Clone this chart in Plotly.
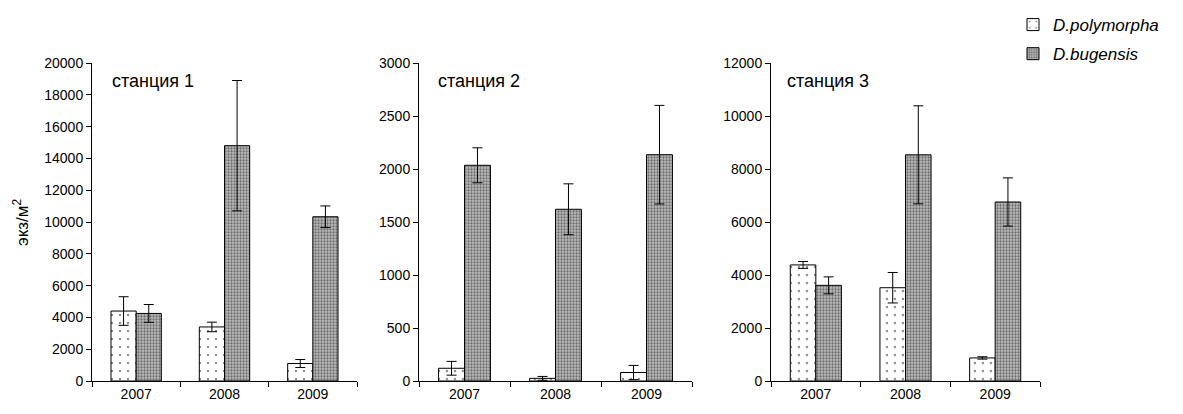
import plotly.graph_objects as go

years = ["2007", "2008", "2009"]
stations = ["станция 1", "станция 2", "станция 3"]
series_names = ["D.polymorpha", "D.bugensis"]

# values per station
poly_vals = [[4400, 3400, 1100], [120, 25, 80], [4380, 3520, 870]]
poly_err = [[900, 300, 250], [65, 18, 67], [130, 575, 45]]
bug_vals = [[4250, 14800, 10330], [2035, 1620, 2135], [3610, 8535, 6755]]
bug_err = [[560, 4100, 680], [165, 240, 465], [320, 1850, 910]]

y_max = [20000, 3000, 12000]
y_dtick = [2000, 500, 2000]

W, H = 1183, 414
domains_px = [(92, 357), (419, 692), (771, 1040)]
FONT = "Liberation Sans, Arial, sans-serif"

fig = go.Figure()
for i in range(3):
    xa = "x" if i == 0 else f"x{i+1}"
    ya = "y" if i == 0 else f"y{i+1}"
    fig.add_trace(go.Bar(
        x=years, y=poly_vals[i], name=series_names[0],
        xaxis=xa, yaxis=ya, showlegend=(i == 0), legendgroup="p",
        marker=dict(color="white", line=dict(color="black", width=1),
                    pattern=dict(shape=".", size=8, solidity=0.08,
                                 fgcolor="#222", bgcolor="white", fillmode="overlay")),
        error_y=dict(type="data", array=poly_err[i], color="black", thickness=1, width=5),
    ))
    fig.add_trace(go.Bar(
        x=years, y=bug_vals[i], name=series_names[1],
        xaxis=xa, yaxis=ya, showlegend=(i == 0), legendgroup="b",
        marker=dict(color="#9a9a9a", line=dict(color="black", width=1),
                    pattern=dict(shape=".", size=3, solidity=0.45,
                                 fgcolor="#6e6e6e", bgcolor="#bdbdbd", fillmode="replace")),
        error_y=dict(type="data", array=bug_err[i], color="black", thickness=1, width=5),
    ))

layout = dict(
    width=W, height=H,
    margin=dict(l=0, r=0, t=63, b=33),
    paper_bgcolor="white", plot_bgcolor="white",
    barmode="group", bargap=0.43, bargroupgap=0,
    font=dict(family=FONT, size=14, color="black"),
    legend=dict(x=1013 / W, y=1.176, xanchor="left", yanchor="top",
                font=dict(size=17, style="italic"), tracegroupgap=4,
                bgcolor="rgba(0,0,0,0)"),
)
for i in range(3):
    sx = "" if i == 0 else str(i + 1)
    d0, d1 = domains_px[i]
    layout[f"xaxis{sx}"] = dict(
        domain=[d0 / W, d1 / W], anchor=f"y{sx}",
        type="category", range=[-0.5, 2.5],
        showline=True, linecolor="black", linewidth=1,
        ticks="outside", tickson="boundaries", ticklen=5, tickcolor="black",
        showgrid=False, tickfont=dict(size=14), fixedrange=True,
    )
    layout[f"yaxis{sx}"] = dict(
        anchor=f"x{sx}", range=[0, y_max[i]], dtick=y_dtick[i], tick0=0,
        tickformat="d",
        showline=True, linecolor="black", linewidth=1,
        ticks="outside", ticklen=5, tickcolor="black",
        showgrid=False, zeroline=False, tickfont=dict(size=14),
    )

fig.update_layout(**layout)

title_x = [(110 - 92) / 265, (436 - 419) / 273, (785 - 771) / 269]
for i in range(3):
    sx = "" if i == 0 else str(i + 1)
    fig.add_annotation(
        text=stations[i], xref=f"x{sx} domain", yref=f"y{sx} domain",
        x=title_x[i], y=(381 - 81) / 318, xanchor="left", yanchor="middle",
        showarrow=False, font=dict(size=18),
    )

fig.add_annotation(
    text="экз/м<sup>2</sup>", xref="paper", yref="paper",
    x=21 / W, y=0.5, xanchor="center", yanchor="middle",
    textangle=-90, showarrow=False, font=dict(size=17),
)

fig.write_html("out.html")
